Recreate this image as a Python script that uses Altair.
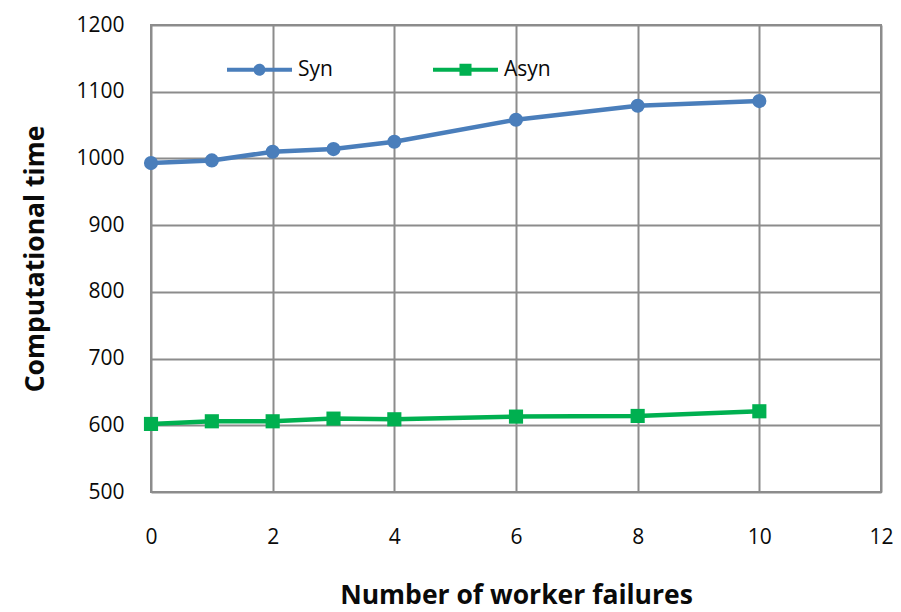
import altair as alt
import pandas as pd

# ---- data ----
failures = [0, 1, 2, 3, 4, 6, 8, 10]
syn_time = [993, 997, 1010, 1014, 1025, 1058, 1079, 1086]
asyn_time = [602, 606, 606, 610, 609, 613, 614, 621]
series_names = ["Syn", "Asyn"]
series_colors = ["#4a7ebb", "#00b050"]
x_ticks = [0, 2, 4, 6, 8, 10, 12]
y_ticks = [500, 600, 700, 800, 900, 1000, 1100, 1200]

df = pd.DataFrame({
    "failures": failures * 2,
    "time": syn_time + asyn_time,
    "series": ["Syn"] * len(failures) + ["Asyn"] * len(failures),
})

FONT = "Open Sans"
GRID = "#8c8c8c"
TXT = "#0a0a0a"

# legend symbols: line segment with marker (unit path, scaled by sqrt(size)/2)
legend_shapes = [
    "M-1,-0.062L1,-0.062L1,0.062L-1,0.062Z"
    "M0.185,0A0.185,0.185,0,1,1,-0.185,0A0.185,0.185,0,1,1,0.185,0Z",
    "M-1,-0.062L1,-0.062L1,0.062L-1,0.062Z"
    "M-0.185,-0.185L0.185,-0.185L0.185,0.185L-0.185,0.185Z",
]

x_enc = alt.X(
    "failures:Q",
    scale=alt.Scale(domain=[0, 12], nice=False, zero=False),
    axis=alt.Axis(
        values=x_ticks, title="Number of worker failures", grid=True,
        gridColor=GRID, gridWidth=2, ticks=False, domain=False, labelFlush=False,
        labelFont=FONT, labelFontSize=21, labelColor=TXT, labelPadding=34,
        titleFont=FONT, titleFontSize=26.5, titleFontWeight="bold", titleColor=TXT,
        titleY=111, titleBaseline="alphabetic",
    ),
)
y_enc = alt.Y(
    "time:Q",
    scale=alt.Scale(domain=[500, 1200], nice=False, zero=False),
    axis=alt.Axis(
        values=y_ticks, format="d", title="Computational time", grid=True,
        gridColor=GRID, gridWidth=2, ticks=False, domain=False, labelFlush=False,
        labelFont=FONT, labelFontSize=21, labelColor=TXT, labelPadding=27,
        titleFont=FONT, titleFontSize=26.5, titleFontWeight="bold", titleColor=TXT,
        titleX=-108, titleBaseline="alphabetic", titleAngle=270,
    ),
)

base = alt.Chart(df)

lines = base.mark_line(strokeWidth=4.5, opacity=1).encode(
    x=x_enc, y=y_enc,
    stroke=alt.Stroke("series:N", scale=alt.Scale(domain=series_names, range=series_colors), legend=None),
)

points = base.mark_point(filled=True, opacity=1, strokeWidth=0, size=200).encode(
    x=x_enc, y=y_enc,
    fill=alt.Fill("series:N", scale=alt.Scale(domain=series_names, range=series_colors), legend=None),
    shape=alt.Shape("series:N", scale=alt.Scale(domain=series_names, range=["circle", "square"]), legend=None),
)

legend_props = dict(
    title=None, orient="none", legendX=76, legendY=12, direction="horizontal",
    symbolSize=4225, symbolStrokeWidth=0, symbolOpacity=1, labelFont=FONT,
    labelFontSize=21, labelColor=TXT, labelOffset=6, columnPadding=100, padding=0,
)

legend_layer = base.transform_filter("false").mark_point(filled=True, opacity=1, strokeWidth=0).encode(
    x=x_enc, y=y_enc,
    fill=alt.Fill("series:N", scale=alt.Scale(domain=series_names, range=series_colors),
                  legend=alt.Legend(**legend_props)),
    shape=alt.Shape("series:N", scale=alt.Scale(domain=series_names, range=legend_shapes),
                    legend=alt.Legend(**legend_props)),
)

chart = (
    alt.layer(lines, points, legend_layer)
    .resolve_scale(fill="independent", shape="independent")
    .properties(
        width=730, height=467,
        autosize=alt.AutoSizeParams(type="none"),
        padding={"left": 143, "top": 17, "right": 12, "bottom": 112},
        background="white",
    )
    .configure_view(stroke=GRID, strokeWidth=2)
)

chart.save("out.html", embed_options={"renderer": "svg", "actions": False})
